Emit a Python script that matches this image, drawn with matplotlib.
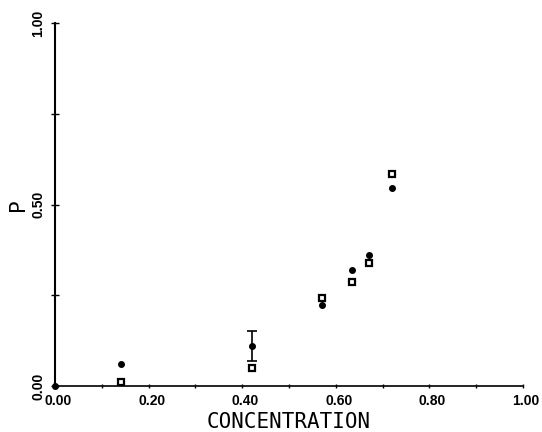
import numpy as np
import matplotlib.pyplot as plt
from matplotlib.transforms import ScaledTranslation

# dati
conc_filled = [0.00, 0.14, 0.42, 0.57, 0.635, 0.671, 0.72]
p_filled = [0.00, 0.060, 0.110, 0.223, 0.320, 0.360, 0.545]
conc_open = [0.14, 0.42, 0.57, 0.635, 0.671, 0.72]
p_open = [0.010, 0.050, 0.242, 0.287, 0.339, 0.584]
err_x = 0.42
err_lo = 0.069
err_hi = 0.152

xticks = [0.0, 0.2, 0.4, 0.6, 0.8, 1.0]
xlabels = ["0.00", "0.20", "0.40", "0.60", "0.80", "1.00"]
yticks = [0.0, 0.5, 1.0]
ylabels = ["0.00", "0.50", "1.00"]

fam = ['Liberation Sans', 'DejaVu Sans']

fig = plt.figure(figsize=(5.42, 4.32), dpi=100)
ax = fig.add_axes([55/542, 46/432, 468/542, 363/432])

ax.plot(conc_filled, p_filled, 'o', color='black', markersize=4, clip_on=False, zorder=3)
ax.plot(conc_open, p_open, 's', markerfacecolor='white', markeredgecolor='black',
        markeredgewidth=1.6, markersize=4.5, clip_on=False, zorder=3)
ax.errorbar([err_x], [(err_lo + err_hi) / 2], yerr=[[(err_hi - err_lo) / 2], [(err_hi - err_lo) / 2]],
            fmt='none', ecolor='black', elinewidth=1.2, capsize=3.5, capthick=1.2)

ax.set_xlim(0, 1)
ax.set_ylim(0, 1)
for s in ['top', 'right']:
    ax.spines[s].set_visible(False)
ax.spines['left'].set_linewidth(1.5)
ax.spines['bottom'].set_linewidth(1.2)

ax.set_xticks(xticks)
ax.set_xticklabels(xlabels, family=fam, fontsize=10, weight='bold')
ax.set_xticks(np.arange(0.1, 1.0, 0.2), minor=True)
ax.tick_params(axis='x', which='both', direction='inout', length=3, width=1, pad=4)
ax.set_yticks(yticks)
ax.set_yticklabels(ylabels, family=fam, fontsize=10, weight='bold', rotation=90, va='center')
ax.set_yticks([0.25, 0.75], minor=True)
ax.tick_params(axis='y', which='both', direction='inout', length=6, width=1, pad=4)

off = ScaledTranslation(3/100, 0, fig.dpi_scale_trans)
for lab in ax.get_xticklabels():
    lab.set_transform(lab.get_transform() + off)

ax.set_xlabel("CONCENTRATION", family=['DejaVu Sans Mono'], fontsize=15, labelpad=3)
ax.set_ylabel("P", family=['DejaVu Sans'], fontsize=15, labelpad=2)

fig.savefig("out.png", dpi=100)
